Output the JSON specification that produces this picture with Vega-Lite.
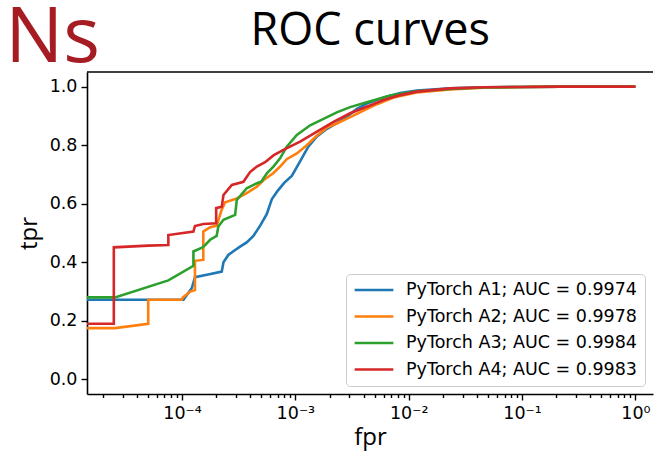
{
  "$schema": "https://vega.github.io/schema/vega-lite/v6.json",
  "width": 566,
  "height": 322,
  "autosize": {"type": "none"},
  "padding": {"left": 87, "top": 72, "right": 1, "bottom": 65},
  "background": "white",
  "config": {
    "view": {"stroke": null},
    "axis": {"grid": false, "domainColor": "black", "domainWidth": 1.6, "tickColor": "black", "tickWidth": 1.4, "labelFont": "DejaVu Sans", "labelFontSize": 17.5, "labelColor": "black", "titleFont": "Open Sans", "titleFontSize": 24, "titleFontWeight": "normal", "titleColor": "black"}
  },
  "layer": [
    {
      "data": {"values": [{}]},
      "mark": {"type": "rule", "color": "black", "strokeWidth": 1.6},
      "encoding": {"y": {"datum": 1.05, "type": "quantitative"}}
    },
    {
      "data": {"values": [
        {"model": "PyTorch A1; AUC = 0.9974", "fpr": 1e-6, "tpr": 0.272},
        {"model": "PyTorch A1; AUC = 0.9974", "fpr": 1.03e-4, "tpr": 0.272},
        {"model": "PyTorch A1; AUC = 0.9974", "fpr": 1.22e-4, "tpr": 0.312},
        {"model": "PyTorch A1; AUC = 0.9974", "fpr": 1.30e-4, "tpr": 0.349},
        {"model": "PyTorch A1; AUC = 0.9974", "fpr": 1.7e-4, "tpr": 0.358},
        {"model": "PyTorch A1; AUC = 0.9974", "fpr": 2.24e-4, "tpr": 0.368},
        {"model": "PyTorch A1; AUC = 0.9974", "fpr": 2.32e-4, "tpr": 0.40},
        {"model": "PyTorch A1; AUC = 0.9974", "fpr": 2.56e-4, "tpr": 0.425},
        {"model": "PyTorch A1; AUC = 0.9974", "fpr": 2.9e-4, "tpr": 0.44},
        {"model": "PyTorch A1; AUC = 0.9974", "fpr": 3.3e-4, "tpr": 0.455},
        {"model": "PyTorch A1; AUC = 0.9974", "fpr": 3.72e-4, "tpr": 0.468},
        {"model": "PyTorch A1; AUC = 0.9974", "fpr": 4.26e-4, "tpr": 0.49},
        {"model": "PyTorch A1; AUC = 0.9974", "fpr": 4.89e-4, "tpr": 0.525},
        {"model": "PyTorch A1; AUC = 0.9974", "fpr": 5.6e-4, "tpr": 0.565},
        {"model": "PyTorch A1; AUC = 0.9974", "fpr": 6.19e-4, "tpr": 0.615},
        {"model": "PyTorch A1; AUC = 0.9974", "fpr": 7.0e-4, "tpr": 0.645},
        {"model": "PyTorch A1; AUC = 0.9974", "fpr": 8.0e-4, "tpr": 0.672},
        {"model": "PyTorch A1; AUC = 0.9974", "fpr": 9.3e-4, "tpr": 0.695},
        {"model": "PyTorch A1; AUC = 0.9974", "fpr": 1.1e-3, "tpr": 0.745},
        {"model": "PyTorch A1; AUC = 0.9974", "fpr": 1.3e-3, "tpr": 0.795},
        {"model": "PyTorch A1; AUC = 0.9974", "fpr": 1.55e-3, "tpr": 0.83},
        {"model": "PyTorch A1; AUC = 0.9974", "fpr": 1.9e-3, "tpr": 0.856},
        {"model": "PyTorch A1; AUC = 0.9974", "fpr": 2.32e-3, "tpr": 0.875},
        {"model": "PyTorch A1; AUC = 0.9974", "fpr": 2.85e-3, "tpr": 0.898},
        {"model": "PyTorch A1; AUC = 0.9974", "fpr": 3.49e-3, "tpr": 0.924},
        {"model": "PyTorch A1; AUC = 0.9974", "fpr": 4.27e-3, "tpr": 0.942},
        {"model": "PyTorch A1; AUC = 0.9974", "fpr": 6.0e-3, "tpr": 0.963},
        {"model": "PyTorch A1; AUC = 0.9974", "fpr": 8.41e-3, "tpr": 0.978},
        {"model": "PyTorch A1; AUC = 0.9974", "fpr": 1.18e-2, "tpr": 0.987},
        {"model": "PyTorch A1; AUC = 0.9974", "fpr": 2.32e-2, "tpr": 0.994},
        {"model": "PyTorch A1; AUC = 0.9974", "fpr": 4.57e-2, "tpr": 0.998},
        {"model": "PyTorch A1; AUC = 0.9974", "fpr": 0.1, "tpr": 0.999},
        {"model": "PyTorch A1; AUC = 0.9974", "fpr": 0.22, "tpr": 1},
        {"model": "PyTorch A1; AUC = 0.9974", "fpr": 1, "tpr": 1},

        {"model": "PyTorch A2; AUC = 0.9978", "fpr": 1e-6, "tpr": 0.175},
        {"model": "PyTorch A2; AUC = 0.9978", "fpr": 2.56e-5, "tpr": 0.175},
        {"model": "PyTorch A2; AUC = 0.9978", "fpr": 5.03e-5, "tpr": 0.19},
        {"model": "PyTorch A2; AUC = 0.9978", "fpr": 5.03e-5, "tpr": 0.272},
        {"model": "PyTorch A2; AUC = 0.9978", "fpr": 9.94e-5, "tpr": 0.272},
        {"model": "PyTorch A2; AUC = 0.9978", "fpr": 1.02e-4, "tpr": 0.28},
        {"model": "PyTorch A2; AUC = 0.9978", "fpr": 1.18e-4, "tpr": 0.30},
        {"model": "PyTorch A2; AUC = 0.9978", "fpr": 1.30e-4, "tpr": 0.305},
        {"model": "PyTorch A2; AUC = 0.9978", "fpr": 1.30e-4, "tpr": 0.405},
        {"model": "PyTorch A2; AUC = 0.9978", "fpr": 1.54e-4, "tpr": 0.408},
        {"model": "PyTorch A2; AUC = 0.9978", "fpr": 1.54e-4, "tpr": 0.505},
        {"model": "PyTorch A2; AUC = 0.9978", "fpr": 1.77e-4, "tpr": 0.52},
        {"model": "PyTorch A2; AUC = 0.9978", "fpr": 2.02e-4, "tpr": 0.525},
        {"model": "PyTorch A2; AUC = 0.9978", "fpr": 2.24e-4, "tpr": 0.58},
        {"model": "PyTorch A2; AUC = 0.9978", "fpr": 2.4e-4, "tpr": 0.605},
        {"model": "PyTorch A2; AUC = 0.9978", "fpr": 3.04e-4, "tpr": 0.618},
        {"model": "PyTorch A2; AUC = 0.9978", "fpr": 3.72e-4, "tpr": 0.636},
        {"model": "PyTorch A2; AUC = 0.9978", "fpr": 4.57e-4, "tpr": 0.658},
        {"model": "PyTorch A2; AUC = 0.9978", "fpr": 5.23e-4, "tpr": 0.68},
        {"model": "PyTorch A2; AUC = 0.9978", "fpr": 6.4e-4, "tpr": 0.705},
        {"model": "PyTorch A2; AUC = 0.9978", "fpr": 7.33e-4, "tpr": 0.727},
        {"model": "PyTorch A2; AUC = 0.9978", "fpr": 8.39e-4, "tpr": 0.752},
        {"model": "PyTorch A2; AUC = 0.9978", "fpr": 1.03e-3, "tpr": 0.772},
        {"model": "PyTorch A2; AUC = 0.9978", "fpr": 1.26e-3, "tpr": 0.80},
        {"model": "PyTorch A2; AUC = 0.9978", "fpr": 1.55e-3, "tpr": 0.833},
        {"model": "PyTorch A2; AUC = 0.9978", "fpr": 1.9e-3, "tpr": 0.86},
        {"model": "PyTorch A2; AUC = 0.9978", "fpr": 2.32e-3, "tpr": 0.874},
        {"model": "PyTorch A2; AUC = 0.9978", "fpr": 3.04e-3, "tpr": 0.896},
        {"model": "PyTorch A2; AUC = 0.9978", "fpr": 3.99e-3, "tpr": 0.918},
        {"model": "PyTorch A2; AUC = 0.9978", "fpr": 5.24e-3, "tpr": 0.94},
        {"model": "PyTorch A2; AUC = 0.9978", "fpr": 7.35e-3, "tpr": 0.963},
        {"model": "PyTorch A2; AUC = 0.9978", "fpr": 1.18e-2, "tpr": 0.98},
        {"model": "PyTorch A2; AUC = 0.9978", "fpr": 2.32e-2, "tpr": 0.99},
        {"model": "PyTorch A2; AUC = 0.9978", "fpr": 4.57e-2, "tpr": 0.996},
        {"model": "PyTorch A2; AUC = 0.9978", "fpr": 0.1, "tpr": 0.999},
        {"model": "PyTorch A2; AUC = 0.9978", "fpr": 0.22, "tpr": 1},
        {"model": "PyTorch A2; AUC = 0.9978", "fpr": 1, "tpr": 1},

        {"model": "PyTorch A3; AUC = 0.9984", "fpr": 1e-6, "tpr": 0.28},
        {"model": "PyTorch A3; AUC = 0.9984", "fpr": 2.56e-5, "tpr": 0.28},
        {"model": "PyTorch A3; AUC = 0.9984", "fpr": 7.57e-5, "tpr": 0.338},
        {"model": "PyTorch A3; AUC = 0.9984", "fpr": 1.26e-4, "tpr": 0.388},
        {"model": "PyTorch A3; AUC = 0.9984", "fpr": 1.26e-4, "tpr": 0.437},
        {"model": "PyTorch A3; AUC = 0.9984", "fpr": 1.5e-4, "tpr": 0.45},
        {"model": "PyTorch A3; AUC = 0.9984", "fpr": 1.6e-4, "tpr": 0.459},
        {"model": "PyTorch A3; AUC = 0.9984", "fpr": 1.77e-4, "tpr": 0.477},
        {"model": "PyTorch A3; AUC = 0.9984", "fpr": 2.02e-4, "tpr": 0.49},
        {"model": "PyTorch A3; AUC = 0.9984", "fpr": 2.09e-4, "tpr": 0.522},
        {"model": "PyTorch A3; AUC = 0.9984", "fpr": 2.32e-4, "tpr": 0.545},
        {"model": "PyTorch A3; AUC = 0.9984", "fpr": 2.94e-4, "tpr": 0.562},
        {"model": "PyTorch A3; AUC = 0.9984", "fpr": 3.04e-4, "tpr": 0.613},
        {"model": "PyTorch A3; AUC = 0.9984", "fpr": 3.72e-4, "tpr": 0.653},
        {"model": "PyTorch A3; AUC = 0.9984", "fpr": 4.57e-4, "tpr": 0.67},
        {"model": "PyTorch A3; AUC = 0.9984", "fpr": 5.0e-4, "tpr": 0.675},
        {"model": "PyTorch A3; AUC = 0.9984", "fpr": 5.6e-4, "tpr": 0.704},
        {"model": "PyTorch A3; AUC = 0.9984", "fpr": 6.4e-4, "tpr": 0.727},
        {"model": "PyTorch A3; AUC = 0.9984", "fpr": 7.33e-4, "tpr": 0.755},
        {"model": "PyTorch A3; AUC = 0.9984", "fpr": 8.39e-4, "tpr": 0.795},
        {"model": "PyTorch A3; AUC = 0.9984", "fpr": 1.03e-3, "tpr": 0.835},
        {"model": "PyTorch A3; AUC = 0.9984", "fpr": 1.35e-3, "tpr": 0.868},
        {"model": "PyTorch A3; AUC = 0.9984", "fpr": 1.77e-3, "tpr": 0.89},
        {"model": "PyTorch A3; AUC = 0.9984", "fpr": 2.32e-3, "tpr": 0.912},
        {"model": "PyTorch A3; AUC = 0.9984", "fpr": 3.04e-3, "tpr": 0.93},
        {"model": "PyTorch A3; AUC = 0.9984", "fpr": 4.27e-3, "tpr": 0.947},
        {"model": "PyTorch A3; AUC = 0.9984", "fpr": 6.87e-3, "tpr": 0.97},
        {"model": "PyTorch A3; AUC = 0.9984", "fpr": 1.18e-2, "tpr": 0.984},
        {"model": "PyTorch A3; AUC = 0.9984", "fpr": 2.32e-2, "tpr": 0.992},
        {"model": "PyTorch A3; AUC = 0.9984", "fpr": 4.57e-2, "tpr": 0.997},
        {"model": "PyTorch A3; AUC = 0.9984", "fpr": 0.1, "tpr": 0.999},
        {"model": "PyTorch A3; AUC = 0.9984", "fpr": 0.22, "tpr": 1},
        {"model": "PyTorch A3; AUC = 0.9984", "fpr": 1, "tpr": 1},

        {"model": "PyTorch A4; AUC = 0.9983", "fpr": 1e-6, "tpr": 0.19},
        {"model": "PyTorch A4; AUC = 0.9983", "fpr": 2.5e-5, "tpr": 0.19},
        {"model": "PyTorch A4; AUC = 0.9983", "fpr": 2.5e-5, "tpr": 0.451},
        {"model": "PyTorch A4; AUC = 0.9983", "fpr": 5.03e-5, "tpr": 0.457},
        {"model": "PyTorch A4; AUC = 0.9983", "fpr": 7.57e-5, "tpr": 0.459},
        {"model": "PyTorch A4; AUC = 0.9983", "fpr": 7.57e-5, "tpr": 0.493},
        {"model": "PyTorch A4; AUC = 0.9983", "fpr": 1.26e-4, "tpr": 0.505},
        {"model": "PyTorch A4; AUC = 0.9983", "fpr": 1.30e-4, "tpr": 0.524},
        {"model": "PyTorch A4; AUC = 0.9983", "fpr": 1.54e-4, "tpr": 0.531},
        {"model": "PyTorch A4; AUC = 0.9983", "fpr": 2.0e-4, "tpr": 0.533},
        {"model": "PyTorch A4; AUC = 0.9983", "fpr": 2.0e-4, "tpr": 0.585},
        {"model": "PyTorch A4; AUC = 0.9983", "fpr": 2.24e-4, "tpr": 0.59},
        {"model": "PyTorch A4; AUC = 0.9983", "fpr": 2.32e-4, "tpr": 0.63},
        {"model": "PyTorch A4; AUC = 0.9983", "fpr": 2.75e-4, "tpr": 0.664},
        {"model": "PyTorch A4; AUC = 0.9983", "fpr": 3.48e-4, "tpr": 0.675},
        {"model": "PyTorch A4; AUC = 0.9983", "fpr": 3.98e-4, "tpr": 0.708},
        {"model": "PyTorch A4; AUC = 0.9983", "fpr": 4.57e-4, "tpr": 0.727},
        {"model": "PyTorch A4; AUC = 0.9983", "fpr": 5.41e-4, "tpr": 0.742},
        {"model": "PyTorch A4; AUC = 0.9983", "fpr": 6.4e-4, "tpr": 0.765},
        {"model": "PyTorch A4; AUC = 0.9983", "fpr": 7.84e-4, "tpr": 0.784},
        {"model": "PyTorch A4; AUC = 0.9983", "fpr": 1.1e-3, "tpr": 0.812},
        {"model": "PyTorch A4; AUC = 0.9983", "fpr": 1.55e-3, "tpr": 0.846},
        {"model": "PyTorch A4; AUC = 0.9983", "fpr": 2.17e-3, "tpr": 0.88},
        {"model": "PyTorch A4; AUC = 0.9983", "fpr": 3.04e-3, "tpr": 0.909},
        {"model": "PyTorch A4; AUC = 0.9983", "fpr": 4.27e-3, "tpr": 0.931},
        {"model": "PyTorch A4; AUC = 0.9983", "fpr": 6.0e-3, "tpr": 0.954},
        {"model": "PyTorch A4; AUC = 0.9983", "fpr": 8.41e-3, "tpr": 0.971},
        {"model": "PyTorch A4; AUC = 0.9983", "fpr": 1.18e-2, "tpr": 0.983},
        {"model": "PyTorch A4; AUC = 0.9983", "fpr": 2.32e-2, "tpr": 0.994},
        {"model": "PyTorch A4; AUC = 0.9983", "fpr": 4.57e-2, "tpr": 0.998},
        {"model": "PyTorch A4; AUC = 0.9983", "fpr": 0.1, "tpr": 0.999},
        {"model": "PyTorch A4; AUC = 0.9983", "fpr": 0.22, "tpr": 1},
        {"model": "PyTorch A4; AUC = 0.9983", "fpr": 1, "tpr": 1}
      ]},
      "mark": {"type": "line", "strokeWidth": 2.6, "clip": true},
      "encoding": {
        "x": {
          "field": "fpr", "type": "quantitative",
          "scale": {"type": "log", "domain": [1.45e-5, 1.43], "nice": false},
          "axis": {
            "title": "fpr",
            "values": [0.00002, 0.00003, 0.00004, 0.00005, 0.00006, 0.00007, 0.00008, 0.00009, 0.0001, 0.0002, 0.0003, 0.0004, 0.0005, 0.0006, 0.0007, 0.0008, 0.0009, 0.001, 0.002, 0.003, 0.004, 0.005, 0.006, 0.007, 0.008, 0.009, 0.01, 0.02, 0.03, 0.04, 0.05, 0.06, 0.07, 0.08, 0.09, 0.1, 0.2, 0.3, 0.4, 0.5, 0.6, 0.7, 0.8, 0.9, 1],
            "labelExpr": "datum.value == 0.0001 ? '10⁻⁴' : datum.value == 0.001 ? '10⁻³' : datum.value == 0.01 ? '10⁻²' : datum.value == 0.1 ? '10⁻¹' : datum.value == 1 ? '10⁰' : ''",
            "tickSize": {"condition": {"test": "indexof([0.0001, 0.001, 0.01, 0.1, 1], datum.value) >= 0", "value": 6}, "value": 3.5},
            "labelOverlap": false, "labelFlush": false, "labelBound": false,
            "labelPadding": 4, "titlePadding": 4
          }
        },
        "y": {
          "field": "tpr", "type": "quantitative",
          "scale": {"domain": [-0.05, 1.05], "nice": false, "zero": false},
          "axis": {"title": "tpr", "values": [0, 0.2, 0.4, 0.6, 0.8, 1], "format": ".1f", "tickSize": 6, "labelPadding": 4, "titlePadding": 8}
        },
        "color": {
          "field": "model", "type": "nominal",
          "scale": {"domain": ["PyTorch A1; AUC = 0.9974", "PyTorch A2; AUC = 0.9978", "PyTorch A3; AUC = 0.9984", "PyTorch A4; AUC = 0.9983"], "range": ["#1f77b4", "#ff7f0e", "#2ca02c", "#d62728"]},
          "legend": {"title": null, "orient": "bottom-right", "offset": 8, "labelFont": "DejaVu Sans", "labelFontSize": 17.5, "labelColor": "black", "labelLimit": 400, "symbolType": "stroke", "symbolSize": 1500, "symbolStrokeWidth": 2.6, "fillColor": "white", "strokeColor": "#cccccc", "cornerRadius": 4, "padding": 7, "rowPadding": 8.5, "labelOffset": 11, "clipHeight": 18}
        },
        "order": [{"field": "fpr", "type": "quantitative"}, {"field": "tpr", "type": "quantitative"}]
      }
    },
    {
      "data": {"values": [{}]},
      "mark": {"type": "text", "align": "left", "baseline": "alphabetic", "font": "Open Sans", "fontSize": 77, "color": "#a51d23"},
      "encoding": {
        "x": {"datum": 2.75e-6, "type": "quantitative"},
        "y": {"datum": 1.084, "type": "quantitative"},
        "text": {"value": "Ns"}
      }
    },
    {
      "data": {"values": [{}]},
      "mark": {"type": "text", "align": "center", "baseline": "alphabetic", "font": "Open Sans", "fontSize": 45, "color": "black"},
      "encoding": {
        "x": {"datum": 4.57e-3, "type": "quantitative"},
        "y": {"datum": 1.142, "type": "quantitative"},
        "text": {"value": "ROC curves"}
      }
    }
  ]
}
